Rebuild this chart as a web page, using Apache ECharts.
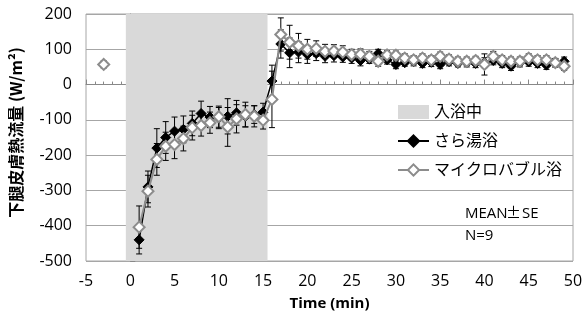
<!DOCTYPE html>
<html>
<head>
<meta charset="utf-8">
<script src="https://cdn.jsdelivr.net/npm/echarts@6/dist/echarts.min.js"></script>
<style>
  html, body { margin: 0; padding: 0; background: #fff; }
  #chart { width: 587px; height: 320px; }
</style>
</head>
<body>
<div id="chart"></div>
<script>
// 時間 (min): 入浴前 -3, 入浴中 1-15, 出浴後 16-49
const times = [-3,
  1, 2, 3, 4, 5, 6, 7, 8, 9, 10, 11, 12, 13, 14, 15,
  16, 17, 18, 19, 20, 21, 22, 23, 24, 25, 26, 27, 28, 29, 30, 31, 32,
  33, 34, 35, 36, 37, 38, 39, 40, 41, 42, 43, 44, 45, 46, 47, 48, 49];

// さら湯浴
const plainMean = [57,
  -440, -290, -180, -150, -132, -127, -110, -82, -92, -95, -90, -80, -90, -85, -78,
  10, 115, 90, 92, 85, 88, 80, 82, 78, 75, 68, 72, 88, 70, 57, 62, 65,
  60, 63, 57, 65, 60, 62, 60, 62, 68, 60, 52, 62, 64, 60, 55, 62, 66];
const plainSE = [10,
  40, 45, 55, 45, 40, 38, 35, 35, 30, 30, 50, 35, 30, 25, 25,
  45, 40, 42, 30, 25, 20, 18, 18, 15, 15, 15, 12, 12, 12, 12, 10, 12,
  12, 12, 12, 12, 10, 12, 12, 14, 12, 12, 12, 12, 12, 12, 12, 12, 12];

// マイクロバブル浴
const microMean = [57,
  -404, -302, -212, -175, -170, -153, -122, -116, -108, -91, -120, -97, -85, -90, -101,
  -42, 142, 120, 110, 100, 102, 94, 95, 92, 85, 86, 80, 66, 84, 83, 75, 70,
  75, 70, 80, 72, 66, 66, 68, 57, 80, 70, 66, 66, 75, 70, 70, 62, 52];
const microSE = [8,
  60, 45, 45, 40, 40, 35, 35, 30, 30, 30, 55, 40, 35, 30, 25,
  80, 47, 48, 35, 28, 22, 20, 18, 18, 15, 15, 14, 14, 12, 12, 12, 12,
  12, 12, 12, 12, 12, 12, 12, 30, 14, 12, 12, 12, 12, 12, 12, 12, 12];

// 入浴中の範囲
const bathStart = -0.5;
const bathEnd = 15.5;

const font = '"Open Sans", "Noto Sans CJK JP", sans-serif';
const cjkFont = '"Noto Sans CJK JP", sans-serif';

// 入浴前の点と入浴中の線をつながないように区切りを入れる
function lineData(mean) {
  const out = [];
  for (let i = 0; i < times.length; i++) {
    out.push([times[i], mean[i]]);
    if (i === 0) out.push([0, '-']);
  }
  return out;
}

function errorData(mean, se) {
  return times.map((t, i) => [t, mean[i] - se[i], mean[i] + se[i]]);
}

function renderError(params, api) {
  const x = api.value(0);
  const top = api.coord([x, api.value(2)]);
  const bot = api.coord([x, api.value(1)]);
  const w = 3;
  const style = { stroke: '#000', lineWidth: 1 };
  return {
    type: 'group',
    children: [
      { type: 'line', shape: { x1: top[0], y1: top[1], x2: bot[0], y2: bot[1] }, style },
      { type: 'line', shape: { x1: top[0] - w, y1: top[1], x2: top[0] + w, y2: top[1] }, style },
      { type: 'line', shape: { x1: bot[0] - w, y1: bot[1], x2: bot[0] + w, y2: bot[1] }, style }
    ]
  };
}

const chart = echarts.init(document.getElementById('chart'), null, { renderer: 'canvas' });

chart.setOption({
  animation: false,
  textStyle: { fontFamily: font },
  grid: {
    left: 86, right: 14, top: 14, bottom: 59,
    show: true, borderColor: '#a6a6a6', borderWidth: 1
  },
  legend: {
    orient: 'vertical',
    left: 392,
    top: 99,
    itemGap: 13,
    itemWidth: 31,
    itemHeight: 14,
    textStyle: { fontSize: 16, color: '#000', fontFamily: font },
    data: [
      { name: '入浴中', icon: 'rect', itemStyle: { color: '#d9d9d9' } },
      { name: 'さら湯浴' },
      { name: 'マイクロバブル浴' }
    ]
  },
  graphic: [
    { type: 'text', left: 465, top: 206, style: { text: 'MEAN', fontSize: 15, fill: '#000', fontFamily: font } },
    { type: 'text', left: 506, top: 205, style: { text: '±', fontSize: 15, fill: '#000', fontFamily: cjkFont } },
    { type: 'text', left: 522, top: 206, style: { text: 'SE', fontSize: 15, fill: '#000', fontFamily: font } },
    { type: 'text', left: 465, top: 228, style: { text: 'N=9', fontSize: 15, fill: '#000', fontFamily: font } }
  ],
  xAxis: {
    type: 'value',
    min: -5, max: 50, interval: 5,
    name: 'Time (min)',
    nameLocation: 'middle',
    nameGap: 35,
    nameTextStyle: { fontSize: 15, fontWeight: 'bold', color: '#000' },
    axisLine: { lineStyle: { color: '#888' } },
    axisTick: { inside: true, length: 5, lineStyle: { color: '#888' } },
    minorTick: { show: true, splitNumber: 5, length: 3, lineStyle: { color: '#888' } },
    splitLine: { show: false },
    axisLabel: { fontSize: 16, color: '#000', margin: 12 }
  },
  yAxis: {
    type: 'value',
    min: -500, max: 200, interval: 100,
    name: '下腿皮膚熱流量 (W/m²)',
    nameLocation: 'middle',
    nameGap: 62,
    nameTextStyle: { fontSize: 16, fontWeight: 'bold', color: '#000',
      fontFamily: cjkFont, padding: [0, 0, 0, 10] },
    axisLine: { show: true, lineStyle: { color: '#888' } },
    axisTick: { show: true, inside: true, length: 5, lineStyle: { color: '#888' } },
    minorTick: { show: true, splitNumber: 5, length: 4, lineStyle: { color: '#888' } },
    splitLine: { lineStyle: { color: '#a6a6a6' } },
    axisLabel: { fontSize: 16, color: '#000', margin: 14 }
  },
  series: [
    {
      name: '入浴中',
      type: 'line',
      data: [],
      itemStyle: { color: '#d9d9d9' },
      markArea: {
        silent: true,
        itemStyle: { color: '#d9d9d9' },
        data: [[{ xAxis: bathStart }, { xAxis: bathEnd }]]
      }
    },
    {
      name: 'plainErr',
      type: 'custom',
      renderItem: renderError,
      data: errorData(plainMean, plainSE),
      encode: { x: 0, y: [1, 2] },
      z: 3
    },
    {
      name: 'microErr',
      type: 'custom',
      renderItem: renderError,
      data: errorData(microMean, microSE),
      encode: { x: 0, y: [1, 2] },
      z: 3
    },
    {
      name: 'さら湯浴',
      type: 'line',
      data: lineData(plainMean),
      symbol: 'diamond',
      symbolSize: 10,
      lineStyle: { color: '#000', width: 1.5 },
      itemStyle: { color: '#000', borderColor: '#000', borderWidth: 1 },
      z: 4
    },
    {
      name: 'マイクロバブル浴',
      type: 'line',
      data: lineData(microMean),
      symbol: 'diamond',
      symbolSize: 11,
      lineStyle: { color: '#8c8c8c', width: 2 },
      itemStyle: { color: '#fff', borderColor: '#8c8c8c', borderWidth: 2 },
      z: 5
    }
  ]
});
</script>
</body>
</html>
